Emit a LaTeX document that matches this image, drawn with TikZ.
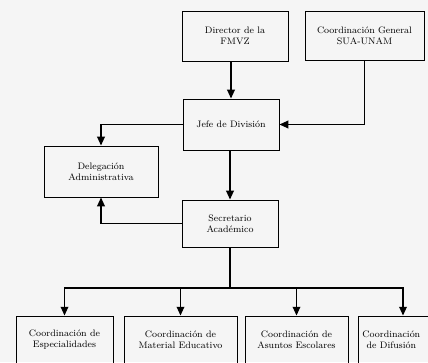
\documentclass[tikz,border=0pt]{standalone}
\usepackage{tikz}
\usetikzlibrary{arrows.meta,positioning}
\tikzset{
    node distance=2cm, % minimum distance between nodes
    }

\begin{document}
\begin{tikzpicture}[x=0.03cm, y=-0.03cm,
box/.style={rectangle, draw=black, thick, align=center, font=\footnotesize, inner sep=1pt},
arrow/.style={line width=1.2pt, -{Triangle[width=6.5pt,length=7.5pt]}},
link/.style={line width=1.2pt},
]
\useasboundingbox[fill=black!4] (0,0) rectangle (428,362);
\node[box, minimum width=3.18cm, minimum height=1.5cm] (director) at (235,36) {Director de la\\FMVZ};
\node[box, minimum width=3.57cm, minimum height=1.47cm] (sua) at (364.5,35.5) {Coordinación General\\SUA-UNAM};
\node[box, minimum width=2.88cm, minimum height=1.53cm] (jefe) at (231,124.5) {Jefe de División};
\node[box, minimum width=3.42cm, minimum height=1.53cm] (delegacion) at (101,171.5) {Delegación\\Administrativa};
\node[box, minimum width=2.88cm, minimum height=1.41cm] (secretario) at (230,223.5) {Secretario\\Académico};

\node[box, minimum width=2.91cm, minimum height=1.44cm] (especialidades) at (64.5,340) {Coordinación de\\Especialidades};
\node[box, minimum width=3.39cm, minimum height=1.44cm] (material) at (180.5,340) {Coordinación de\\Material Educativo};
\node[box, minimum width=3.09cm, minimum height=1.44cm] (asuntos) at (296.5,340) {Coordinación de\\Asuntos Escolares};
\node[box, minimum width=2.7cm, minimum height=1.44cm] (difusion) at (403,340) {};
% label kept inside the visible part of the cut box
\node[font=\footnotesize, align=center, anchor=west, inner sep=1pt] (difusiontext) at ([xshift=3pt]difusion.west) {Coordinación\\de Difusión};
\coordinate (bus) at (230,288);

\draw[arrow] (director.south -| jefe.north) -- (jefe.north);
\draw[arrow] (sua.south) |- (jefe.east);
\draw[arrow] (jefe.west) -| (delegacion.north);
\draw[arrow] (jefe.south -| secretario.north) -- (secretario.north);
\draw[arrow] (secretario.west) -| (delegacion.south);
\draw[link] (secretario.south) -- (bus);
\foreach \n in {especialidades,material,asuntos,difusion}
    \draw[arrow] (bus) -| (\n.north);
\end{tikzpicture}
\end{document}
